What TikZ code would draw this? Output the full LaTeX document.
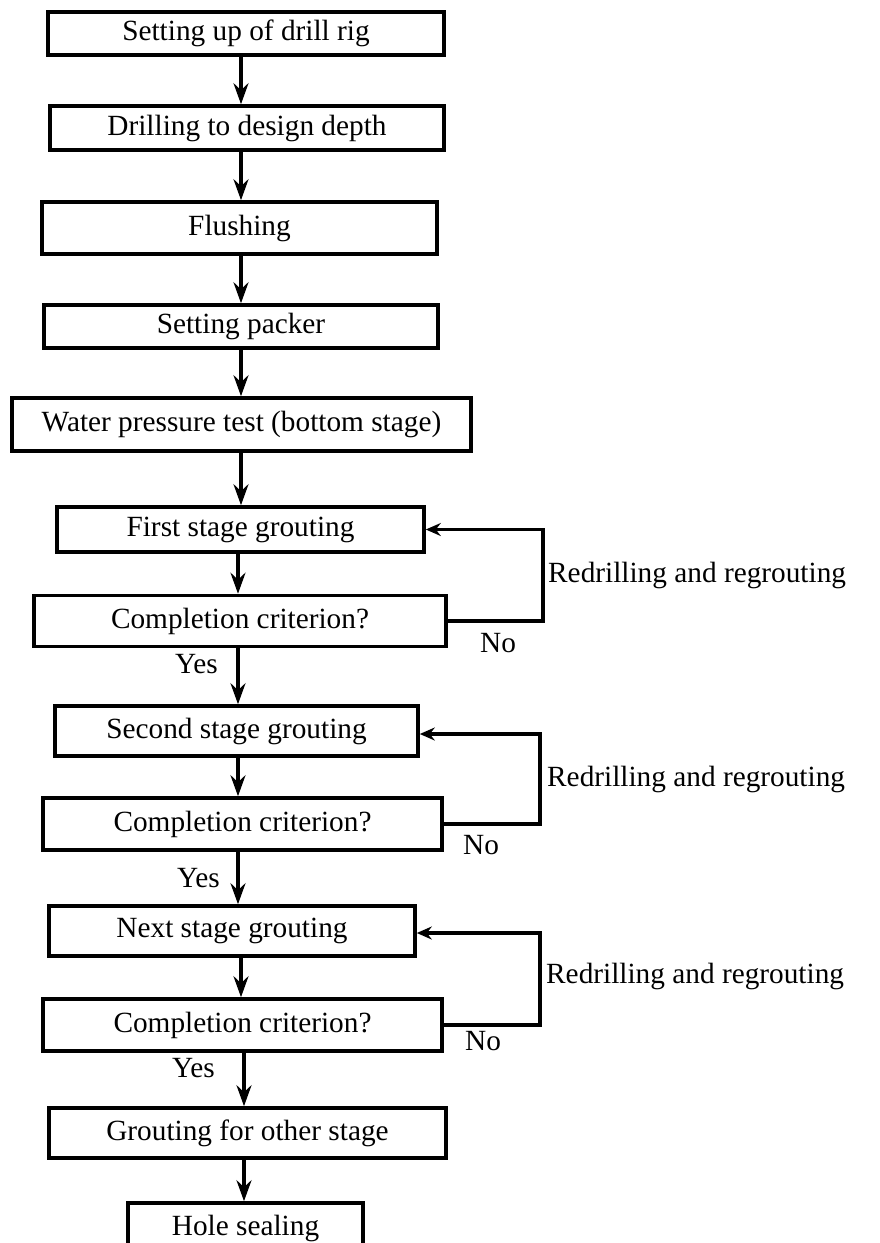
\documentclass[tikz,border=0pt]{standalone}
\usepackage{fontspec}
\setmainfont{Liberation Serif}
\usetikzlibrary{arrows.meta}

\begin{document}
\begin{tikzpicture}[x=1pt,y=-1pt,font=\fontsize{29.3}{34}\selectfont,
	stepbox/.style={draw,line width=3.6pt,inner sep=0pt,fill=white},
	flow/.style={line width=3.2pt,-{Stealth[length=21pt,width=15pt,inset=7pt]}},
	back/.style={line width=3.4pt,-{Stealth[length=15pt,width=13pt,inset=5pt]}},
	note/.style={inner sep=0pt,anchor=base west}]
	\useasboundingbox (0,0) rectangle (880,1243);
	\clip (0,0) rectangle (880,1243);
	\coordinate (spine) at (241,0);
	\node[stepbox,minimum width=396pt,minimum height=43pt] (setup) at (246,33.5) {Setting up of drill rig};
	\node[stepbox,minimum width=394pt,minimum height=44pt] (drill) at (247,128) {Drilling to design depth};
	\node[stepbox,minimum width=395pt,minimum height=52pt] (flush) at (239.5,228) {Flushing};
	\node[stepbox,minimum width=394pt,minimum height=43pt] (packer) at (241,326.5) {Setting packer};
	\node[stepbox,minimum width=459pt,minimum height=53pt] (water) at (241.5,424.5) {Water pressure test (bottom stage)};
	\node[stepbox,minimum width=367pt,minimum height=45pt] (first) at (240.5,529.5) {First stage grouting};
	\node[stepbox,minimum width=412pt,minimum height=51pt] (check1) at (240,621) {Completion criterion?};
	\node[stepbox,minimum width=363pt,minimum height=50pt] (second) at (236.5,731) {Second stage grouting};
	\node[stepbox,minimum width=399pt,minimum height=52pt] (check2) at (242.5,824) {Completion criterion?};
	\node[stepbox,minimum width=366pt,minimum height=50pt] (next) at (232,931) {Next stage grouting};
	\node[stepbox,minimum width=399pt,minimum height=52pt] (check3) at (242.5,1025) {Completion criterion?};
	\node[stepbox,minimum width=397pt,minimum height=50pt] (other) at (247.5,1133) {Grouting for other stage};
	\node[stepbox,minimum width=235pt,minimum height=50pt] (seal) at (245.5,1228) {Hole sealing};

	\draw[flow] (setup.south -| spine) -- (drill.north -| spine);
	\draw[flow] (drill.south -| spine) -- (flush.north -| spine);
	\draw[flow] (flush.south -| spine) -- (packer.north -| spine);
	\draw[flow] (packer.south -| spine) -- (water.north -| spine);
	\draw[flow] (water.south -| spine) -- (first.north -| spine);
	\draw[flow] ([xshift=-3pt]first.south -| spine) -- ([xshift=-3pt]check1.north -| spine);
	\draw[flow] ([xshift=-3pt]check1.south -| spine) -- ([xshift=-3pt]second.north -| spine);
	\draw[flow] ([xshift=-3pt]second.south -| spine) -- ([xshift=-3pt]check2.north -| spine);
	\draw[flow] ([xshift=-3pt]check2.south -| spine) -- ([xshift=-3pt]next.north -| spine);
	\draw[flow] (next.south -| spine) -- (check3.north -| spine);
	\draw[flow] ([xshift=3pt]check3.south -| spine) -- ([xshift=3pt]other.north -| spine);
	\draw[flow] ([xshift=3pt]other.south -| spine) -- ([xshift=3pt]seal.north -| spine);

	\draw[back] (check1.east) -- ++(95,0) |- (first.east);
	\draw[back] (check2.east) -- ++(96,0) |- ([yshift=-3pt]second.east);
	\draw[back] (check3.east) -- ++(96,0) |- ([yshift=-2pt]next.east);

	\node[note] (redo1) at (548,582) {Redrilling and regrouting};
	\node[note] (redo2) at (547,786) {Redrilling and regrouting};
	\node[note] (redo3) at (546,983) {Redrilling and regrouting};
	\node[note] (no1) at (480,652) {No};
	\node[note] (no2) at (463,854) {No};
	\node[note] (no3) at (465,1050) {No};
	\node[note] (yes1) at (175,673) {Yes};
	\node[note] (yes2) at (177,887) {Yes};
	\node[note] (yes3) at (172,1077) {Yes};
\end{tikzpicture}
\end{document}
